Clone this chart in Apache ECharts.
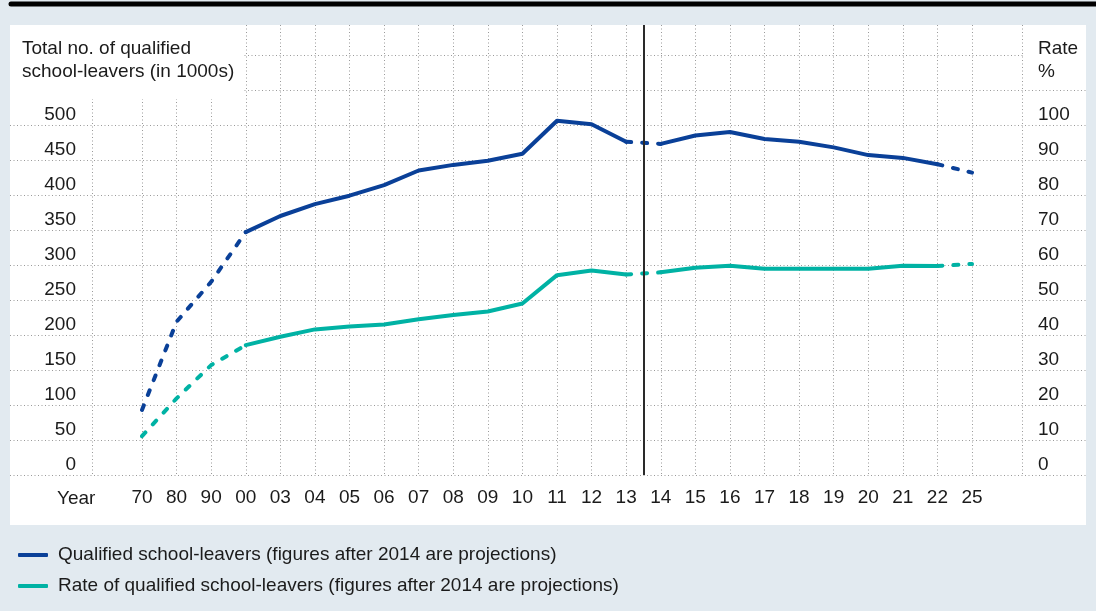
<!DOCTYPE html>
<html>
<head>
<meta charset="utf-8">
<script src="https://cdn.jsdelivr.net/npm/echarts@6/dist/echarts.min.js"></script>
<style>
  html, body { margin: 0; padding: 0; background: #e2eaf0; }
  #chart { width: 1096px; height: 611px; }
</style>
</head>
<body>
<div id="chart"></div>
<script>
// ---- data ----
const years = ['70','80','90','00','03','04','05','06','07','08','09','10','11','12','13','14','15','16','17','18','19','20','21','22','25'];
const leavers = [93, 219, 276, 347, 370, 387, 399, 414, 435, 443, 449, 459, 506, 501, 476, 473, 485, 490, 480, 476, 468, 457, 453, 444, 432];
const rate = [11.1, 21.9, 31.4, 37.1, 39.5, 41.6, 42.4, 43.0, 44.5, 45.7, 46.7, 49.0, 57.1, 58.4, 57.3, 57.9, 59.2, 59.8, 58.9, 58.9, 58.9, 58.9, 59.8, 59.7, 60.3];
const leftTicks = { min: 0, max: 500, interval: 50 };
const rightTicks = { min: 0, max: 100, interval: 10 };
// segments: solid ranges and dashed ranges (index ranges, inclusive)
const solidRanges = [[3, 14], [15, 23]];
const dashedRanges = [[0, 3], [14, 15], [23, 24]];
const nameLeavers = 'Qualified school-leavers (figures after 2014 are projections)';
const nameRate = 'Rate of qualified school-leavers (figures after 2014 are projections)';

const BLUE = '#0a4098';
const TEAL = '#00b2a4';
const TXT = '#1b1b1b';
const FONT = '"Liberation Sans", Arial, sans-serif';
const GRIDLINE = { show: true, lineStyle: { color: '#9a9a9a', type: [1, 2.5], width: 1 } };

function pick(arr, ranges) {
  return arr.map((v, i) => ranges.some(r => i >= r[0] && i <= r[1]) ? v : null);
}

function makeSeries(name, arr, color, yIdx) {
  const out = [];
  solidRanges.forEach(r => {
    out.push({
      name, type: 'line', xAxisIndex: 3, yAxisIndex: yIdx,
      data: pick(arr, [r]), connectNulls: false, clip: false,
      symbol: 'none', showSymbol: false, silent: true,
      lineStyle: { color, width: 4, cap: 'round', join: 'round' },
      itemStyle: { color }, z: 3
    });
  });
  out.push({
    name, type: 'line', xAxisIndex: 3, yAxisIndex: yIdx,
    data: pick(arr, dashedRanges), connectNulls: false, clip: false,
    symbol: 'none', showSymbol: false, silent: true,
    lineStyle: { color, width: 4, type: [5, 11], cap: 'round', join: 'round' },
    itemStyle: { color }, z: 3
  });
  return out;
}

const chart = echarts.init(document.getElementById('chart'));
const labelStyle = { color: TXT, fontSize: 19, fontFamily: FONT };

chart.setOption({
  backgroundColor: '#e2eaf0',
  animation: false,
  textStyle: { fontFamily: FONT },
  graphic: [
    { type: 'rect', shape: { x: 10, y: 25, width: 1076, height: 500 }, style: { fill: '#ffffff' }, z: -100, silent: true },
    { type: 'line', shape: { x1: 11, y1: 4, x2: 1100, y2: 4 }, style: { stroke: '#000000', lineWidth: 5, lineCap: 'round' }, z: 10, silent: true },
    { type: 'rect', shape: { x: 10, y: 25, width: 233, height: 74 }, style: { fill: '#ffffff' }, z: 5, silent: true },
    { type: 'rect', shape: { x: 1023, y: 25, width: 63, height: 58 }, style: { fill: '#ffffff' }, z: 5, silent: true }
  ],
  title: [
    { text: 'Total no. of qualified\nschool-leavers (in 1000s)', left: 22, top: 37, padding: 0,
      textStyle: { color: TXT, fontSize: 19, fontWeight: 'normal', lineHeight: 23, fontFamily: FONT } },
    { text: 'Rate\n%', left: 1038, top: 37, padding: 0,
      textStyle: { color: TXT, fontSize: 19, fontWeight: 'normal', lineHeight: 23, fontFamily: FONT } },
    { text: 'Year', left: 57, top: 487, padding: 0,
      textStyle: { color: TXT, fontSize: 19, fontWeight: 'normal', lineHeight: 23, fontFamily: FONT } }
  ],
  legend: {
    orient: 'vertical', left: 18, top: 545, itemGap: 11, padding: 0,
    itemWidth: 30, itemHeight: 4,
    textStyle: { color: TXT, fontSize: 19, fontFamily: FONT, lineHeight: 20, padding: [0, 0, 0, 5] },
    data: [
      { name: nameLeavers, icon: 'roundRect', itemStyle: { color: BLUE } },
      { name: nameRate, icon: 'roundRect', itemStyle: { color: TEAL } }
    ],
    selectedMode: false
  },
  grid: [
    { left: 10, right: 10, top: 55, bottom: 136 },   // horizontal gridlines 0..600
    { left: 92, right: 74, top: 25, bottom: 136 },   // outer vertical lines
    { left: 142, right: 124, top: 25, bottom: 136 }, // category vertical lines + divider
    { left: 142, right: 124, top: 125, bottom: 136 } // data
  ],
  xAxis: [
    { gridIndex: 0, type: 'value', min: 0, max: 1, show: false },
    { gridIndex: 1, type: 'value', min: 0, max: 1, interval: 1,
      axisLine: { show: false }, axisTick: { show: false }, axisLabel: { show: false }, splitLine: GRIDLINE },
    { gridIndex: 2, type: 'value', min: 0, max: years.length - 1, interval: 1,
      axisLine: { show: false }, axisTick: { show: false }, axisLabel: { show: false }, splitLine: GRIDLINE },
    { gridIndex: 3, type: 'category', data: years, boundaryGap: false,
      axisLine: { show: false }, axisTick: { show: false }, splitLine: { show: false },
      axisLabel: Object.assign({ margin: 13, lineHeight: 20, interval: 0 }, labelStyle) }
  ],
  yAxis: [
    { gridIndex: 0, type: 'value', min: 0, max: 600, interval: 50,
      axisLine: { show: false }, axisTick: { show: false }, axisLabel: { show: false }, splitLine: GRIDLINE },
    { gridIndex: 1, type: 'value', min: 0, max: 1, show: false },
    { gridIndex: 2, type: 'value', min: 0, max: 1, show: false },
    { gridIndex: 3, type: 'value', position: 'left', min: leftTicks.min, max: leftTicks.max, interval: leftTicks.interval,
      axisLine: { show: false }, axisTick: { show: false }, splitLine: { show: false },
      axisLabel: Object.assign({ margin: 66, verticalAlign: 'bottom', lineHeight: 21,
        showMinLabel: true, showMaxLabel: true, hideOverlap: false }, labelStyle) },
    { gridIndex: 3, type: 'value', position: 'right', min: rightTicks.min, max: rightTicks.max, interval: rightTicks.interval,
      axisLine: { show: false }, axisTick: { show: false }, splitLine: { show: false },
      axisLabel: Object.assign({ margin: 66, verticalAlign: 'bottom', lineHeight: 21, align: 'left',
        showMinLabel: true, showMaxLabel: true, hideOverlap: false }, labelStyle) }
  ],
  series: [
    ...makeSeries(nameLeavers, leavers, BLUE, 3),
    ...makeSeries(nameRate, rate, TEAL, 4),
    { name: 'divider', type: 'line', xAxisIndex: 2, yAxisIndex: 2, data: [], silent: true,
      markLine: { silent: true, symbol: ['none', 'none'], label: { show: false },
        lineStyle: { color: '#2a2a2a', width: 2, type: 'solid' },
        data: [{ xAxis: 14.5 }] } }
  ]
});
</script>
</body>
</html>
